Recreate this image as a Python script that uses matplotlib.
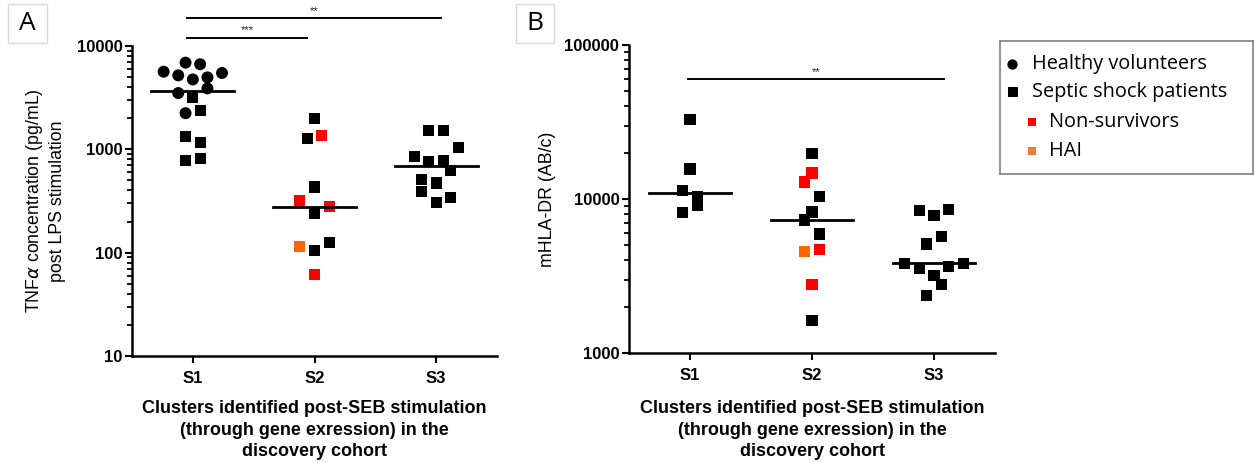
import numpy as np
import matplotlib
matplotlib.use("Agg")
import matplotlib.pyplot as plt
from matplotlib.ticker import FixedLocator, FuncFormatter, LogLocator, NullFormatter
from matplotlib.patches import Rectangle

# ---------------- data ----------------
categories = ["S1", "S2", "S3"]

# Panel A: TNFa (pg/mL)
A_S1_healthy = [6900, 6660, 5640, 5200, 5480, 4750, 4970, 3890, 3505, 2240]
A_S1_healthy_off = [-1, 1, -4, -2, 4, 0, 2, 2, -2, -1]
A_S1_septic = [3160, 2365, 1325, 1160, 784, 813]
A_S1_septic_off = [0, 1, -1, 1, -1, 1]
A_S2 = [1980, 1268, 1355, 432, 316, 279, 237, 126, 114, 104, 61.6]
A_S2_off = [0, -1, 1, 0, -2, 2, 0, 2, -2, 0, 0]
A_S2_status = ["S", "S", "N", "S", "N", "N", "S", "S", "H", "S", "N"]
A_S3 = [1514, 1514, 1052, 848, 758, 771, 621, 508, 472, 389, 341, 307]
A_S3_off = [-1, 1, 3, -3, -1, 1, 2, -2, 0, -2, 2, 0]
A_S3_status = ["S"] * 12

# Panel B: mHLA-DR (AB/c)
B_S1 = [32900, 15660, 11380, 10340, 9050, 8150]
B_S1_off = [0, 0, -1, 1, 1, -1]
B_S1_status = ["S"] * 6
B_S2 = [19690, 14750, 12890, 10350, 8240, 7310, 5930, 4710, 4550, 2800, 1622]
B_S2_off = [0, 0, -1, 1, 0, -1, 1, 1, -1, 0, 0]
B_S2_status = ["S", "N", "N", "S", "S", "S", "S", "N", "H", "N", "S"]
B_S3 = [8400, 7830, 8600, 5690, 5100, 3820, 3820, 3530, 3640, 3180, 2770, 2360]
B_S3_off = [-2, 0, 2, 1, -1, -4, 4, -2, 2, 0, 1, -1]
B_S3_status = ["S"] * 12

A_yticks = [10, 100, 1000, 10000]
B_yticks = [1000, 10000, 100000]

colors = {"S": "#000000", "N": "#FF0000", "H": "#FF6600"}
legend_labels = ["Healthy volunteers", "Septic shock patients", "Non-survivors", "HAI"]

# ---------------- style ----------------
W, H = 1256, 463
fig = plt.figure(figsize=(W / 100, H / 100), dpi=100)
JIT = 0.06
SQ = 64
CI = 74


def px_axes(x0, y0, x1, y1):
    return fig.add_axes([x0 / W, 1 - y1 / H, (x1 - x0) / W, (y1 - y0) / H])


def style_axes(ax, ylim, yticks):
    ax.set_yscale("log")
    ax.set_ylim(*ylim)
    ax.set_xlim(0.5, 3.5)
    for s in ["top", "right"]:
        ax.spines[s].set_visible(False)
    for s in ["left", "bottom"]:
        ax.spines[s].set_linewidth(1.8)
    ax.yaxis.set_major_locator(FixedLocator(yticks))
    ax.yaxis.set_major_formatter(FuncFormatter(lambda v, p: f"{int(round(v))}"))
    ax.yaxis.set_minor_locator(LogLocator(base=10, subs=np.arange(2, 10)))
    ax.yaxis.set_minor_formatter(NullFormatter())
    ax.set_xticks([1, 2, 3])
    ax.set_xticklabels(categories)
    ax.tick_params(axis="both", which="major", length=5, width=1.5, direction="out", pad=2)
    ax.tick_params(axis="y", which="minor", length=3.5, width=1.3)
    ax.tick_params(axis="x", pad=6)
    for lab in ax.get_xticklabels() + ax.get_yticklabels():
        lab.set_fontfamily("Liberation Sans")
        lab.set_fontweight("bold")
        lab.set_fontsize(12)


def plot_group(ax, xc, vals, offs, status, marker="s", s=SQ):
    x = [xc + o * JIT for o in offs]
    c = [colors[k] for k in status]
    ax.scatter(x, vals, marker=marker, s=s, c=c, linewidths=0, zorder=3, clip_on=False)


def median_line(ax, xc, vals):
    m = np.median(vals)
    ax.plot([xc - 0.34, xc + 0.34], [m, m], color="black", lw=2.0, zorder=4)


def xlabel(ax, y0):
    h = ax.get_position().height * H
    ax.text(0.5, -(400 - y0) / h, "Clusters identified post-SEB stimulation\n(through gene exression) in the\ndiscovery cohort",
            transform=ax.transAxes, ha="center", va="top", fontsize=13,
            fontfamily="Liberation Sans", fontweight="bold", linespacing=1.36)


def sig_bar(ax, x0, x1, yfrac, text, tyfrac):
    tr = ax.get_xaxis_transform()
    ax.plot([x0, x1], [yfrac, yfrac], color="black", lw=1.4, transform=tr, clip_on=False)
    ax.text((x0 + x1) / 2, tyfrac, text, transform=tr, ha="center", va="center",
            fontsize=8, fontfamily="Liberation Sans", color="#222222", clip_on=False)


def panel_label(x0, y0, x1, y1, text):
    fig.patches.append(Rectangle((x0 / W, 1 - y1 / H), (x1 - x0) / W, (y1 - y0) / H,
                                 transform=fig.transFigure, fill=False, edgecolor="#d9d9d9", lw=1.0))
    fig.text((x0 + x1) / 2 / W, 1 - (y0 + y1) / 2 / H, text, ha="center", va="center",
             fontsize=19, fontfamily="Open Sans")


# ---------------- Panel A ----------------
axA = px_axes(132, 46, 497, 356)
style_axes(axA, (10, 10000), A_yticks)
plot_group(axA, 1, A_S1_healthy, A_S1_healthy_off, ["S"] * len(A_S1_healthy), marker="o", s=CI)
plot_group(axA, 1, A_S1_septic, A_S1_septic_off, ["S"] * len(A_S1_septic))
plot_group(axA, 2, A_S2, A_S2_off, A_S2_status)
plot_group(axA, 3, A_S3, A_S3_off, A_S3_status)
median_line(axA, 1, A_S1_healthy + A_S1_septic)
median_line(axA, 2, A_S2)
median_line(axA, 3, A_S3)
axA.set_ylabel("TNF$\\alpha$ concentration (pg/mL)\npost LPS stimulation", fontsize=12.8,
               fontfamily="Liberation Sans", linespacing=1.3)
axA.yaxis.set_label_coords(-0.18, 0.5)
xlabel(axA, 356)
sig_bar(axA, 0.95, 1.94, 1.027, "***", 1.05)
sig_bar(axA, 0.95, 3.04, 1.089, "**", 1.113)
panel_label(8, 4, 47, 43, "A")

# ---------------- Panel B ----------------
axB = px_axes(629, 45, 995, 353)
style_axes(axB, (1000, 100000), B_yticks)
plot_group(axB, 1, B_S1, B_S1_off, B_S1_status)
plot_group(axB, 2, B_S2, B_S2_off, B_S2_status)
plot_group(axB, 3, B_S3, B_S3_off, B_S3_status)
median_line(axB, 1, B_S1)
median_line(axB, 2, B_S2)
median_line(axB, 3, B_S3)
axB.set_ylabel("mHLA-DR (AB/c)", fontsize=12.8, fontfamily="Liberation Sans")
axB.yaxis.set_label_coords(-0.2, 0.5)
xlabel(axB, 353)
sig_bar(axB, 0.98, 3.08, 0.889, "**", 0.912)
panel_label(516, 4, 554, 43, "B")

# ---------------- Legend ----------------
axL = px_axes(1000, 41, 1253, 174)
axL.set_xlim(0, 253)
axL.set_ylim(133, 0)
axL.set_xticks([])
axL.set_yticks([])
for s in axL.spines.values():
    s.set_edgecolor("#7f7f7f")
    s.set_linewidth(1.2)
axL.scatter([12], [23], marker="o", s=55, c="black", linewidths=0)
axL.scatter([13], [51], marker="s", s=60, c="black", linewidths=0)
axL.scatter([32], [81], marker="s", s=38, c="#FF0000", linewidths=0)
axL.scatter([32], [110], marker="s", s=38, c="#ED7D31", linewidths=0)
lf = dict(fontsize=14.3, fontfamily="Open Sans", va="center", ha="left")
axL.text(32, 23, legend_labels[0], **lf)
axL.text(32, 51, legend_labels[1], **lf)
axL.text(49, 81, legend_labels[2], **lf)
axL.text(49, 110, legend_labels[3], **lf)

fig.savefig("out.png", dpi=100)
